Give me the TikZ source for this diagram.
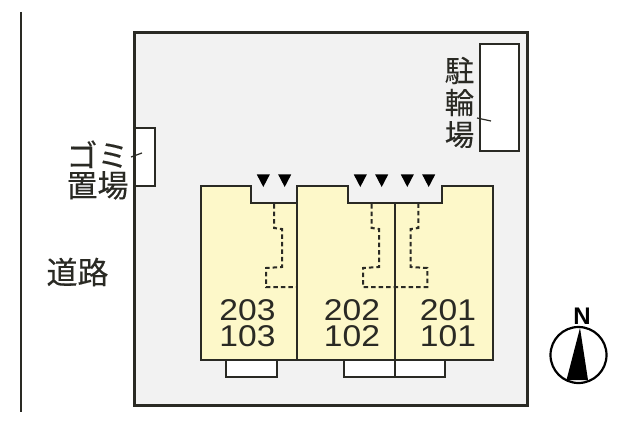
\documentclass[tikz,border=0pt]{standalone}
\usepackage{fontspec}
\setmainfont{Liberation Sans}
\newfontfamily\cjk[FakeBold=0.25]{Noto Sans CJK JP}
\definecolor{unitfill}{HTML}{FDF8C9}
\definecolor{sitefill}{HTML}{F2F2F2}
\definecolor{ink}{HTML}{2A2A24}
\tikzset{
  wall/.style={draw=ink,line width=2.2pt},
  thinbox/.style={draw=ink,line width=2pt,fill=white},
  walk/.style={draw=ink,line width=2pt,dash pattern=on 4.5pt off 3pt},
  marktri/.style={fill=black,draw=none},
  num/.style={inner sep=0pt,transform shape,xscale=1.12,font=\fontsize{30}{26}\selectfont,align=center,text=ink},
  jp/.style={inner sep=0pt,font=\cjk\fontsize{31}{30}\selectfont,align=center,text=ink},
  leader/.style={draw=ink,line width=1.2pt}
}
\begin{document}
\begin{tikzpicture}[x=1pt,y=-1pt]
\useasboundingbox (0,0) rectangle (640,433);
\fill[white] (0,0) rectangle (640,433);
% road edge
\coordinate (roadtop) at (21,12);
\coordinate (roadbot) at (21,412);
\draw[draw=ink,line width=2pt] (roadtop) -- (roadbot);
% site
\draw[fill=sitefill,draw=ink,line width=3pt] (134,33) rectangle (527,405);
% bike and garbage
\node[thinbox,minimum width=39pt,minimum height=107pt,inner sep=0pt,outer sep=0pt,anchor=north west] (bike) at (480,44) {};
\node[thinbox,minimum width=20pt,minimum height=58pt,inner sep=0pt,outer sep=0pt,anchor=north west] (gomi) at (135,128) {};
% balconies
\draw[thinbox] (226,360) rectangle (277.3,377.3);
\draw[thinbox] (344.3,360) rectangle (395,377.3);
\draw[thinbox] (395,360) rectangle (445,377.3);
% building
\draw[wall,fill=unitfill,line join=miter]
  (200.7,186) -- (251,186) -- (251,202.7) -- (297.3,202.7) -- (297.3,186)
  -- (348.3,186) -- (348.3,202.7) -- (442.3,202.7) -- (442.3,186) -- (492.7,186)
  -- (492.7,360) -- (200.7,360) -- cycle;
\draw[wall] (297.3,186) -- (297.3,360);
\draw[wall] (395,202.7) -- (395,377.3);
% walkways
\draw[walk] (274,204) -- (274,228) -- (282,229) -- (282,267) -- (266,268) -- (266,287) -- (296,287);
\draw[walk] (371.7,204) -- (371.7,228) -- (379,229) -- (379,267) -- (363,268) -- (363,287) -- (427.3,287) -- (427.3,268) -- (410.7,267) -- (410.7,229) -- (418.3,228) -- (418.3,204);
% entrance marks
\foreach \c in {263.3,284.7,360.3,381.7,407.3,428.7}
  \fill[marktri] (\c-6.5,174.5) -- (\c+6.5,174.5) -- (\c,187) -- cycle;
% unit numbers
\node[num] (u3) at (247.5,323.5) {203\\103};
\node[num] (u2) at (352,323.5) {202\\102};
\node[num] (u1) at (448,323.5) {201\\101};
% labels
\node[jp,font=\cjk\fontsize{29.5}{32}\selectfont] (lbike) at (459.5,102.5) {駐\\輪\\場};
\node[jp] (lgomi) at (97.5,170) {ゴミ\\置場};
\node[jp] (lroad) at (77.5,272) {道路};
% leaders
\coordinate (lb) at (477,118);
\coordinate (lbe) at (491,121);
\draw[leader] (lb) -- (lbe);
\coordinate (lg) at (131,157);
\coordinate (lge) at (142,153);
\draw[leader] (lg) -- (lge);
% compass
\node[circle,draw=black,line width=2.2pt,minimum size=56pt,inner sep=0pt] (compass) at (578.5,355) {};
\fill[black] (580,328) -- (588,380) -- (566.5,380) -- cycle;
\node[inner sep=0pt,font=\bfseries\fontsize{24}{24}\selectfont] (north) at (582,316.5) {N};
\end{tikzpicture}
\end{document}
